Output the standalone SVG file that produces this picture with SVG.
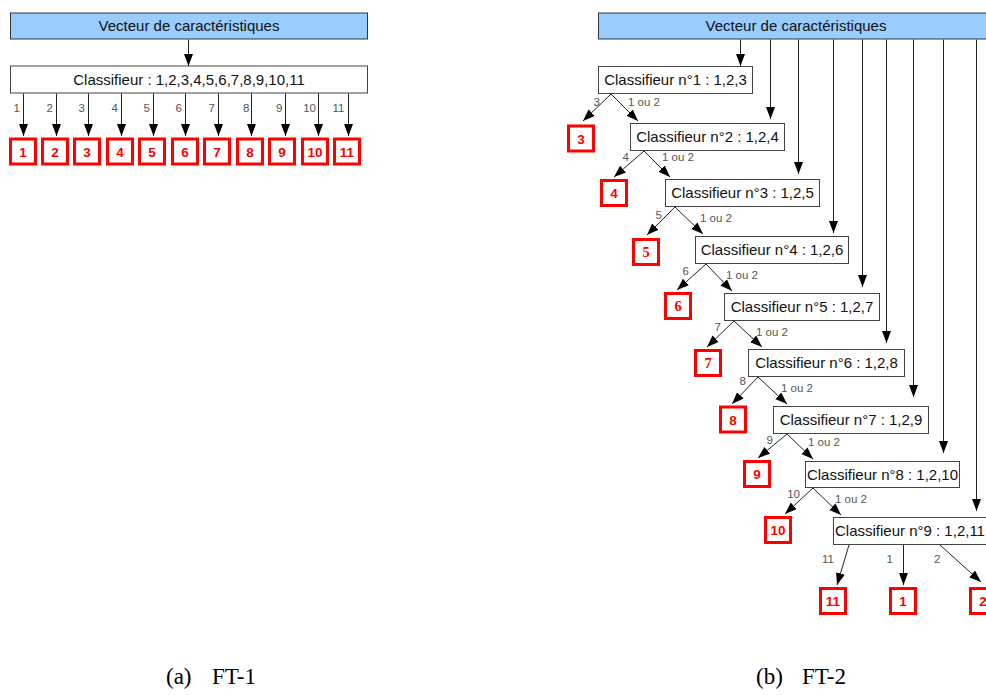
<svg xmlns="http://www.w3.org/2000/svg" width="986" height="695" viewBox="0 0 986 695">
<defs>
<marker id="ah" markerUnits="userSpaceOnUse" markerWidth="13" markerHeight="10" refX="12" refY="4.5" orient="auto">
<path d="M0,0 L12,4.5 L0,9 z" fill="#000"/>
</marker>
<style>
.bar{fill:#99ccff;stroke:#333;stroke-width:1}
.cb{fill:#fff;stroke:#444;stroke-width:1}
.ct{font-family:'Liberation Sans',Arial,sans-serif;font-size:15px;fill:#111;text-anchor:middle}
.rb{fill:#fff;stroke:#f00;stroke-width:3}
.rt{font-family:'Liberation Sans',Arial,sans-serif;font-size:13.5px;font-weight:bold;fill:#f00;text-anchor:middle}
.rs{font-family:'Liberation Serif','Times New Roman',serif;font-size:14.5px;font-weight:bold;fill:#f00;text-anchor:middle}
.ln{stroke:#222;stroke-width:1;fill:none;marker-end:url(#ah)}
.lb{font-family:'Liberation Sans',Arial,sans-serif;font-size:11.5px;fill:#555}
.le{text-anchor:end}
.cap{font-family:'Liberation Serif','Times New Roman',serif;font-size:23px;fill:#000}
</style>
</defs>
<rect width="986" height="695" fill="#fff"/>

<!-- ===== (a) FT-1 ===== -->
<g id="a-vecteur"><rect class="bar" x="10.5" y="13" width="357" height="26"/><text class="ct" x="189" y="31">Vecteur de caractéristiques</text></g>
<g id="a-classifieur"><rect class="cb" x="10.5" y="66" width="357" height="27"/><text class="ct" x="189" y="85">Classifieur : 1,2,3,4,5,6,7,8,9,10,11</text></g>
<g id="a-r1"><rect class="rb" x="10.5" y="139" width="25" height="25"/><text class="rt" x="23" y="156.5">1</text></g>
<g id="a-r2"><rect class="rb" x="42.5" y="139" width="25" height="25"/><text class="rt" x="55" y="156.5">2</text></g>
<g id="a-r3"><rect class="rb" x="74.5" y="139" width="25" height="25"/><text class="rt" x="87" y="156.5">3</text></g>
<g id="a-r4"><rect class="rb" x="107.5" y="139" width="25" height="25"/><text class="rt" x="120" y="156.5">4</text></g>
<g id="a-r5"><rect class="rb" x="139.5" y="139" width="25" height="25"/><text class="rt" x="152" y="156.5">5</text></g>
<g id="a-r6"><rect class="rb" x="172.5" y="139" width="25" height="25"/><text class="rt" x="185" y="156.5">6</text></g>
<g id="a-r7"><rect class="rb" x="204.5" y="139" width="25" height="25"/><text class="rt" x="217" y="156.5">7</text></g>
<g id="a-r8"><rect class="rb" x="237.5" y="139" width="25" height="25"/><text class="rt" x="250" y="156.5">8</text></g>
<g id="a-r9"><rect class="rb" x="269.5" y="139" width="25" height="25"/><text class="rt" x="282" y="156.5">9</text></g>
<g id="a-r10"><rect class="rb" x="302.5" y="139" width="25" height="25"/><text class="rt" x="315" y="156.5">10</text></g>
<g id="a-r11"><rect class="rb" x="334.5" y="139" width="25" height="25"/><text class="rt" x="347" y="156.5">11</text></g>

<g id="a-connectors">
<line class="ln" x1="188.5" y1="39.5" x2="188.5" y2="66"/>
<line class="ln" x1="23.5" y1="93.5" x2="23.5" y2="136"/>
<line class="ln" x1="56.5" y1="93.5" x2="56.5" y2="136"/>
<line class="ln" x1="88.5" y1="93.5" x2="88.5" y2="136"/>
<line class="ln" x1="121.5" y1="93.5" x2="121.5" y2="136"/>
<line class="ln" x1="153.5" y1="93.5" x2="153.5" y2="136"/>
<line class="ln" x1="185.5" y1="93.5" x2="185.5" y2="136"/>
<line class="ln" x1="218.5" y1="93.5" x2="218.5" y2="136"/>
<line class="ln" x1="251.5" y1="93.5" x2="251.5" y2="136"/>
<line class="ln" x1="285.5" y1="93.5" x2="285.5" y2="136"/>
<line class="ln" x1="318.5" y1="93.5" x2="318.5" y2="136"/>
<line class="ln" x1="348.5" y1="93.5" x2="348.5" y2="136"/>
<text class="lb le" x="20" y="112">1</text>
<text class="lb le" x="53" y="112">2</text>
<text class="lb le" x="85" y="112">3</text>
<text class="lb le" x="118" y="112">4</text>
<text class="lb le" x="150" y="112">5</text>
<text class="lb le" x="182" y="112">6</text>
<text class="lb le" x="215" y="112">7</text>
<text class="lb le" x="249.5" y="112">8</text>
<text class="lb le" x="282.5" y="112">9</text>
<text class="lb le" x="316" y="112">10</text>
<text class="lb le" x="344.5" y="112">11</text>
</g>

<!-- ===== (b) FT-2 ===== -->
<g id="b-vecteur"><rect class="bar" x="598.5" y="13" width="396" height="26"/><text class="ct" x="796" y="31">Vecteur de caractéristiques</text></g>
<g id="b-c1"><rect class="cb" x="598.5" y="66.5" width="154" height="27"/><text class="ct" x="675.5" y="85">Classifieur n°1 : 1,2,3</text></g>
<g id="b-c2"><rect class="cb" x="630.5" y="123.5" width="154" height="27"/><text class="ct" x="707.5" y="142">Classifieur n°2 : 1,2,4</text></g>
<g id="b-c3"><rect class="cb" x="665.5" y="179.5" width="154" height="27"/><text class="ct" x="742.5" y="198">Classifieur n°3 : 1,2,5</text></g>
<g id="b-c4"><rect class="cb" x="695.5" y="236.5" width="153" height="27"/><text class="ct" x="772" y="255">Classifieur n°4 : 1,2,6</text></g>
<g id="b-c5"><rect class="cb" x="724.5" y="293.5" width="155" height="27"/><text class="ct" x="802" y="312">Classifieur n°5 : 1,2,7</text></g>
<g id="b-c6"><rect class="cb" x="748.5" y="349.5" width="156" height="27"/><text class="ct" x="826.5" y="368">Classifieur n°6 : 1,2,8</text></g>
<g id="b-c7"><rect class="cb" x="773.5" y="406.5" width="155" height="27"/><text class="ct" x="851" y="425">Classifieur n°7 : 1,2,9</text></g>
<g id="b-c8"><rect class="cb" x="805.5" y="461.5" width="154" height="26"/><text class="ct" x="882.5" y="480">Classifieur n°8 : 1,2,10</text></g>
<g id="b-c9"><rect class="cb" x="833.5" y="517.5" width="156" height="27"/><text class="ct" x="835" y="536" style="text-anchor:start">Classifieur n°9 : 1,2,11</text></g>

<g id="b-r3"><rect class="rb" x="568.5" y="126" width="25" height="25"/><text class="rt" x="581" y="143.5">3</text></g>
<g id="b-r4"><rect class="rb" x="601.5" y="180.5" width="25" height="25"/><text class="rt" x="614" y="198">4</text></g>
<g id="b-r5"><rect class="rb" x="633.5" y="239.5" width="25" height="25"/><text class="rs" x="646" y="257">5</text></g>
<g id="b-r6"><rect class="rb" x="665.5" y="293.5" width="25" height="25"/><text class="rs" x="678" y="311">6</text></g>
<g id="b-r7"><rect class="rb" x="695.5" y="350.5" width="25" height="25"/><text class="rs" x="708" y="368">7</text></g>
<g id="b-r8"><rect class="rb" x="720.5" y="407" width="25" height="25"/><text class="rt" x="733" y="424.5">8</text></g>
<g id="b-r9"><rect class="rb" x="744.5" y="461.5" width="25" height="25"/><text class="rt" x="757" y="479">9</text></g>
<g id="b-r10"><rect class="rb" x="765.5" y="517.5" width="25" height="25"/><text class="rt" x="778" y="535">10</text></g>
<g id="b-r11"><rect class="rb" x="820.5" y="588.5" width="25" height="25"/><text class="rt" x="833" y="606">11</text></g>
<g id="b-r1"><rect class="rb" x="890.5" y="588.5" width="25" height="25"/><text class="rt" x="903" y="606">1</text></g>
<g id="b-r2"><rect class="rb" x="970.5" y="588.5" width="25" height="25"/><text class="rt" x="983" y="606">2</text></g>

<g id="b-connectors">
<line class="ln" x1="740.5" y1="39.5" x2="740.5" y2="66"/>
<line class="ln" x1="770.5" y1="39.5" x2="770.5" y2="119"/>
<line class="ln" x1="798.5" y1="39.5" x2="798.5" y2="174"/>
<line class="ln" x1="833.5" y1="39.5" x2="833.5" y2="233"/>
<line class="ln" x1="862.5" y1="39.5" x2="862.5" y2="287"/>
<line class="ln" x1="886.5" y1="39.5" x2="886.5" y2="343"/>
<line class="ln" x1="913.5" y1="39.5" x2="913.5" y2="397"/>
<line class="ln" x1="943.5" y1="39.5" x2="943.5" y2="453"/>
<line class="ln" x1="976.5" y1="39.5" x2="976.5" y2="511"/>

<line class="ln" x1="611" y1="94" x2="583" y2="121"/>
<line class="ln" x1="611" y1="94" x2="638" y2="121"/>
<line class="ln" x1="644" y1="151" x2="614" y2="177"/>
<line class="ln" x1="644" y1="151" x2="670" y2="177"/>
<line class="ln" x1="675" y1="207" x2="647" y2="235"/>
<line class="ln" x1="675" y1="207" x2="703" y2="234"/>
<line class="ln" x1="706" y1="264" x2="677" y2="290"/>
<line class="ln" x1="706" y1="264" x2="732" y2="291"/>
<line class="ln" x1="734" y1="321" x2="707" y2="347"/>
<line class="ln" x1="734" y1="321" x2="762" y2="347"/>
<line class="ln" x1="758" y1="377" x2="732" y2="404"/>
<line class="ln" x1="758" y1="377" x2="787" y2="404"/>
<line class="ln" x1="787" y1="434" x2="758" y2="458"/>
<line class="ln" x1="787" y1="434" x2="813" y2="459"/>
<line class="ln" x1="813" y1="488" x2="785" y2="514"/>
<line class="ln" x1="813" y1="488" x2="841" y2="515"/>
<line class="ln" x1="849" y1="545" x2="837" y2="585"/>
<line class="ln" x1="903.5" y1="545" x2="903.5" y2="585"/>
<line class="ln" x1="940" y1="545" x2="981" y2="582"/>

<text class="lb le" x="600" y="106">3</text><text class="lb" x="628" y="106">1 ou 2</text>
<text class="lb le" x="629" y="161">4</text><text class="lb" x="662" y="161">1 ou 2</text>
<text class="lb le" x="662" y="219">5</text><text class="lb" x="700" y="222">1 ou 2</text>
<text class="lb le" x="689" y="275">6</text><text class="lb" x="726" y="279">1 ou 2</text>
<text class="lb le" x="721" y="331">7</text><text class="lb" x="756" y="336">1 ou 2</text>
<text class="lb le" x="746" y="385">8</text><text class="lb" x="781" y="392">1 ou 2</text>
<text class="lb le" x="773" y="444">9</text><text class="lb" x="808" y="446">1 ou 2</text>
<text class="lb le" x="800" y="498">10</text><text class="lb" x="835" y="503">1 ou 2</text>
<text class="lb le" x="834" y="563">11</text>
<text class="lb le" x="893" y="563">1</text>
<text class="lb" x="934" y="563">2</text>
</g>

<g id="captions">
<text class="cap" x="166" y="684">(a)</text><text class="cap" x="212" y="684">FT-1</text>
<text class="cap" x="756" y="684">(b)</text><text class="cap" x="802" y="684">FT-2</text>
</g>
</svg>
